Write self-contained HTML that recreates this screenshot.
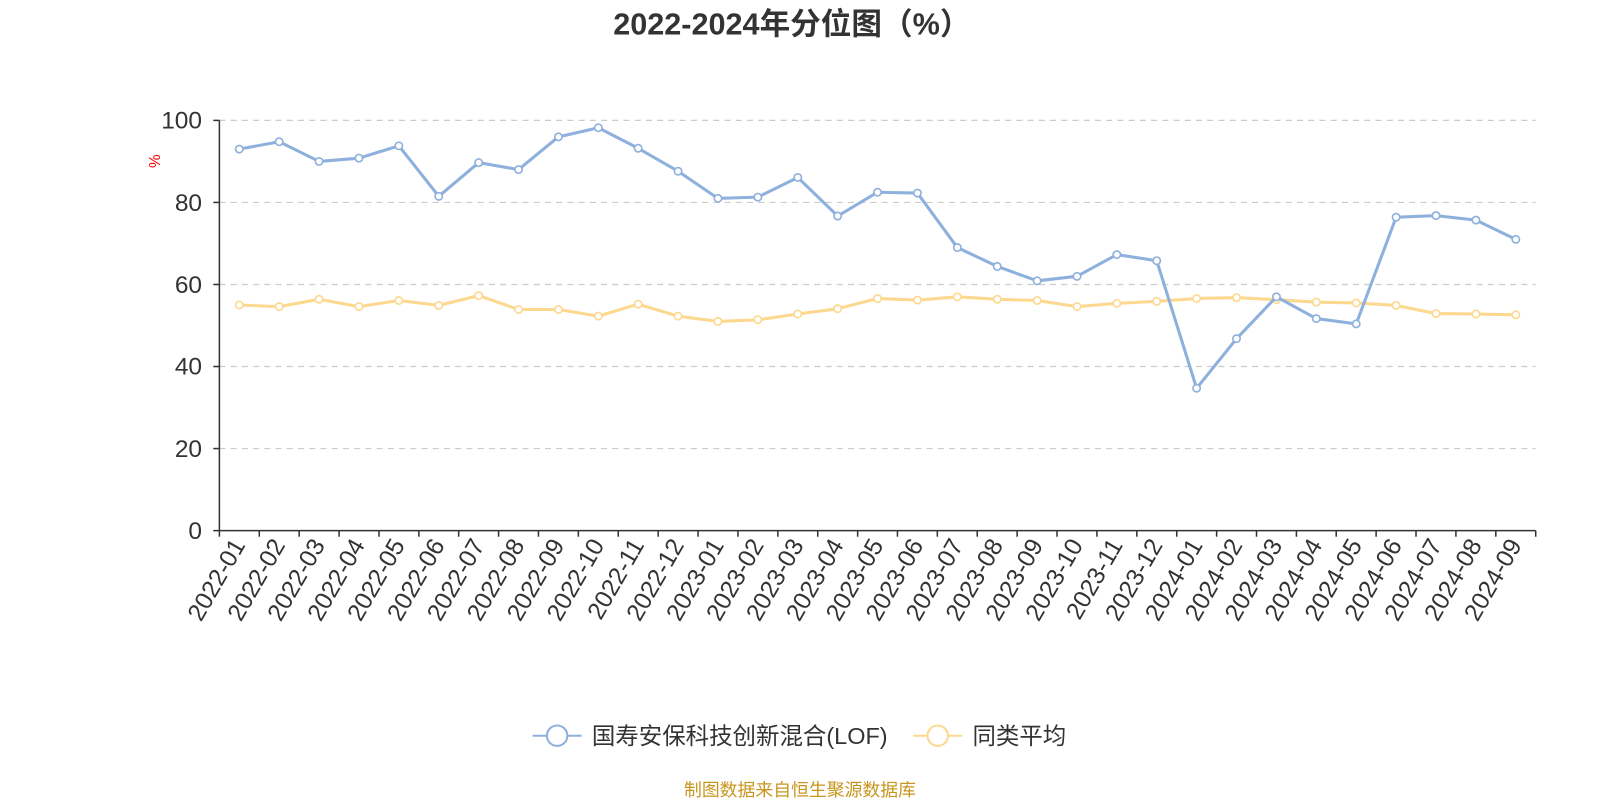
<!DOCTYPE html>
<html><head><meta charset="utf-8"><style>
body{margin:0;background:#fff;}
svg{display:block;font-family:"Liberation Sans","Noto Sans CJK SC",sans-serif;}
</style></head><body>
<svg width="1600" height="800" viewBox="0 0 1600 800">
<defs>
<marker id="mb" markerUnits="userSpaceOnUse" markerWidth="12" markerHeight="12" refX="6" refY="6"><circle cx="6" cy="6" r="3.6" fill="#fff" stroke="#8eb0dc" stroke-width="1.6"/></marker>
<marker id="my" markerUnits="userSpaceOnUse" markerWidth="12" markerHeight="12" refX="6" refY="6"><circle cx="6" cy="6" r="3.6" fill="#fff" stroke="#fdd88f" stroke-width="1.6"/></marker>
</defs>
<g transform="scale(1.0204)">
<text x="776" y="34" text-anchor="middle" font-size="30" font-weight="bold" fill="#333">2022-2024年分位图（%）</text>
<g stroke="#ccc" stroke-width="1.2" stroke-dasharray="6,5">
<line x1="215" y1="118" x2="1505" y2="118"/><line x1="215" y1="198.4" x2="1505" y2="198.4"/><line x1="215" y1="278.8" x2="1505" y2="278.8"/><line x1="215" y1="359.2" x2="1505" y2="359.2"/><line x1="215" y1="439.6" x2="1505" y2="439.6"/>
</g>
<g font-size="24" fill="#333" text-anchor="end">
<text x="198" y="126">100</text><text x="198" y="207">80</text><text x="198" y="287">60</text><text x="198" y="367">40</text><text x="198" y="448">20</text><text x="198" y="528">0</text>
</g>
<text transform="translate(157,158) rotate(-90)" font-size="15" fill="red" text-anchor="middle">%</text>
<g stroke="#333" stroke-width="1.5">
<line x1="215" y1="118" x2="215" y2="520"/><line x1="209" y1="118" x2="215" y2="118"/><line x1="209" y1="198.4" x2="215" y2="198.4"/><line x1="209" y1="278.8" x2="215" y2="278.8"/><line x1="209" y1="359.2" x2="215" y2="359.2"/><line x1="209" y1="439.6" x2="215" y2="439.6"/><line x1="209" y1="520" x2="215" y2="520"/>
<line x1="215" y1="520" x2="1505" y2="520"/>
</g>
<g stroke="#333" stroke-width="1.5">
<line x1="215" y1="520" x2="215" y2="526"/><line x1="254.1" y1="520" x2="254.1" y2="526"/><line x1="293.2" y1="520" x2="293.2" y2="526"/><line x1="332.3" y1="520" x2="332.3" y2="526"/><line x1="371.4" y1="520" x2="371.4" y2="526"/><line x1="410.5" y1="520" x2="410.5" y2="526"/><line x1="449.5" y1="520" x2="449.5" y2="526"/><line x1="488.6" y1="520" x2="488.6" y2="526"/><line x1="527.7" y1="520" x2="527.7" y2="526"/><line x1="566.8" y1="520" x2="566.8" y2="526"/><line x1="605.9" y1="520" x2="605.9" y2="526"/><line x1="645" y1="520" x2="645" y2="526"/><line x1="684.1" y1="520" x2="684.1" y2="526"/><line x1="723.2" y1="520" x2="723.2" y2="526"/><line x1="762.3" y1="520" x2="762.3" y2="526"/><line x1="801.4" y1="520" x2="801.4" y2="526"/><line x1="840.5" y1="520" x2="840.5" y2="526"/><line x1="879.5" y1="520" x2="879.5" y2="526"/><line x1="918.6" y1="520" x2="918.6" y2="526"/><line x1="957.7" y1="520" x2="957.7" y2="526"/><line x1="996.8" y1="520" x2="996.8" y2="526"/><line x1="1035.9" y1="520" x2="1035.9" y2="526"/><line x1="1075" y1="520" x2="1075" y2="526"/><line x1="1114.1" y1="520" x2="1114.1" y2="526"/><line x1="1153.2" y1="520" x2="1153.2" y2="526"/><line x1="1192.3" y1="520" x2="1192.3" y2="526"/><line x1="1231.4" y1="520" x2="1231.4" y2="526"/><line x1="1270.5" y1="520" x2="1270.5" y2="526"/><line x1="1309.5" y1="520" x2="1309.5" y2="526"/><line x1="1348.6" y1="520" x2="1348.6" y2="526"/><line x1="1387.7" y1="520" x2="1387.7" y2="526"/><line x1="1426.8" y1="520" x2="1426.8" y2="526"/><line x1="1465.9" y1="520" x2="1465.9" y2="526"/><line x1="1505" y1="520" x2="1505" y2="526"/>
</g>
<g font-size="24" fill="#333" text-anchor="end">
<text transform="translate(241,534) rotate(-60)">2022-01</text>
<text transform="translate(280.1,534) rotate(-60)">2022-02</text>
<text transform="translate(319.2,534) rotate(-60)">2022-03</text>
<text transform="translate(358.3,534) rotate(-60)">2022-04</text>
<text transform="translate(397.4,534) rotate(-60)">2022-05</text>
<text transform="translate(436.5,534) rotate(-60)">2022-06</text>
<text transform="translate(475.6,534) rotate(-60)">2022-07</text>
<text transform="translate(514.7,534) rotate(-60)">2022-08</text>
<text transform="translate(553.8,534) rotate(-60)">2022-09</text>
<text transform="translate(592.9,534) rotate(-60)">2022-10</text>
<text transform="translate(631.9,534) rotate(-60)">2022-11</text>
<text transform="translate(671,534) rotate(-60)">2022-12</text>
<text transform="translate(710.1,534) rotate(-60)">2023-01</text>
<text transform="translate(749.2,534) rotate(-60)">2023-02</text>
<text transform="translate(788.3,534) rotate(-60)">2023-03</text>
<text transform="translate(827.4,534) rotate(-60)">2023-04</text>
<text transform="translate(866.5,534) rotate(-60)">2023-05</text>
<text transform="translate(905.6,534) rotate(-60)">2023-06</text>
<text transform="translate(944.7,534) rotate(-60)">2023-07</text>
<text transform="translate(983.8,534) rotate(-60)">2023-08</text>
<text transform="translate(1022.9,534) rotate(-60)">2023-09</text>
<text transform="translate(1062,534) rotate(-60)">2023-10</text>
<text transform="translate(1101,534) rotate(-60)">2023-11</text>
<text transform="translate(1140.1,534) rotate(-60)">2023-12</text>
<text transform="translate(1179.2,534) rotate(-60)">2024-01</text>
<text transform="translate(1218.3,534) rotate(-60)">2024-02</text>
<text transform="translate(1257.4,534) rotate(-60)">2024-03</text>
<text transform="translate(1296.5,534) rotate(-60)">2024-04</text>
<text transform="translate(1335.6,534) rotate(-60)">2024-05</text>
<text transform="translate(1374.7,534) rotate(-60)">2024-06</text>
<text transform="translate(1413.8,534) rotate(-60)">2024-07</text>
<text transform="translate(1452.9,534) rotate(-60)">2024-08</text>
<text transform="translate(1492,534) rotate(-60)">2024-09</text>
</g>
<polyline fill="none" stroke="#fdd88f" stroke-width="3" stroke-linejoin="round" marker-start="url(#my)" marker-mid="url(#my)" marker-end="url(#my)" points="234.5,298.9 273.6,300.5 312.7,293.3 351.8,300.5 390.9,294.5 430,299.3 469.1,289.7 508.2,303.3 547.3,303.3 586.4,309.8 625.4,298.1 664.5,309.8 703.6,315 742.7,313.4 781.8,307.7 820.9,302.5 860,292.5 899.1,294.1 938.2,290.9 977.3,293.3 1016.4,294.5 1055.5,300.5 1094.5,297.3 1133.6,295.3 1172.7,292.5 1211.8,291.7 1250.9,293.7 1290,296.1 1329.1,296.9 1368.2,299.3 1407.3,307.3 1446.4,307.7 1485.5,308.5"/>
<polyline fill="none" stroke="#8eb0dc" stroke-width="3" stroke-linejoin="round" marker-start="url(#mb)" marker-mid="url(#mb)" marker-end="url(#mb)" points="234.5,146.1 273.6,138.9 312.7,158.2 351.8,155 390.9,142.9 430,192.4 469.1,159.4 508.2,166.2 547.3,134.1 586.4,125.2 625.4,145.3 664.5,167.8 703.6,194.4 742.7,193.2 781.8,173.9 820.9,211.7 860,188.4 899.1,189.2 938.2,242.6 977.3,261.1 1016.4,275.2 1055.5,270.8 1094.5,249.5 1133.6,255.5 1172.7,380.5 1211.8,331.9 1250.9,290.9 1290,312.2 1329.1,317.4 1368.2,212.9 1407.3,211.3 1446.4,215.7 1485.5,234.6"/>
<g>
<line x1="522" y1="721" x2="570" y2="721" stroke="#8eb0dc" stroke-width="2"/>
<circle cx="546" cy="721" r="10" fill="#fff" stroke="#8eb0dc" stroke-width="2"/>
<text x="580" y="729" font-size="23" fill="#333">国寿安保科技创新混合(LOF)</text>
<line x1="895" y1="721" x2="943" y2="721" stroke="#fdd88f" stroke-width="2"/>
<circle cx="919" cy="721" r="10" fill="#fff" stroke="#fdd88f" stroke-width="2"/>
<text x="953" y="729" font-size="23" fill="#333">同类平均</text>
</g>
<text x="784" y="780" text-anchor="middle" font-size="17.5" fill="#c8961e">制图数据来自恒生聚源数据库</text>
</g>
</svg>
</body></html>
